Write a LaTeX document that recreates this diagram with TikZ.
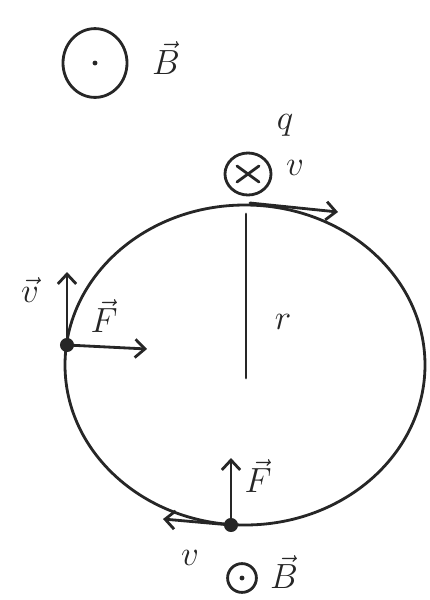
\documentclass[tikz,border=0pt]{standalone}
\usepackage{xcolor}
\usepackage{tikz}
\usetikzlibrary{arrows.meta,positioning,shapes.geometric}
\definecolor{ink}{HTML}{262626}
\tikzset{
  pen/.style={line width=2pt, color=ink, line cap=round},
  vecarrow/.style={
    pen, -{Straight Barb[length=7pt, width=13pt]}
  },
  dotnode/.style={
    circle, fill=ink, inner sep=0pt, minimum size=#1
  },
  dotnode/.default=8pt,
  fieldring/.style={
    ellipse, draw=ink, line width=2pt, inner sep=0pt,
    minimum width=#1, minimum height=#1
  },
  lbl/.style={
    font=\fontsize{30}{32}\selectfont, text=ink, inner sep=1pt
  },
}
\begin{document}
\begin{tikzpicture}[x=0.025cm, y=-0.025cm]
  \useasboundingbox (0,0) rectangle (429,600);
  % field out of the page, top left
  \node[fieldring=1.6cm, minimum height=1.72cm] (Bt) at (95,63) {};
  \node[dotnode=3.5pt] (Btdot) at (Bt.center) {};
  \node[lbl] (Btl) at (166,58) {$\vec{B}$};
  % orbit and radius
  \draw[pen] (245,365) ellipse [x radius=180, y radius=160];
  \coordinate (rtop) at (246,214);
  \coordinate (O) at (246,378);
  \draw[pen] (rtop) -- (O);
  \node[lbl] (rl) at (283,322) {$r$};
  % charge at the top
  \node[fieldring=1.15cm, minimum height=1.05cm] (q) at (248,174) {};
  \draw[pen] ([shift={(-11,-8)}]q.center) -- ([shift={(11,8)}]q.center);
  \draw[pen] ([shift={(-11,8)}]q.center) -- ([shift={(11,-8)}]q.center);
  \node[lbl] (ql) at (285,125) {$q$};
  \node[lbl] (vtl) at (295,168) {$v$};
  \coordinate (pT) at (250,203);
  \coordinate (vT) at (338,212);
  \draw[vecarrow] (pT) -- (vT);
  % charge on the left
  \node[dotnode=10pt] (pL) at (67,345) {};
  \coordinate (vL) at (67,272);
  \coordinate (fL) at (147,349);
  \draw[vecarrow] (pL.center) -- (vL);
  \draw[vecarrow] (pL.center) -- (fL);
  \node[lbl] (vll) at (30,290) {$\vec{v}$};
  \node[lbl] (fll) at (104,316) {$\vec{F}$};
  % charge at the bottom
  \node[dotnode=10pt] (pB) at (231,525) {};
  \coordinate (fB) at (231,458);
  \coordinate (vB) at (163,519);
  \draw[vecarrow] (pB.center) -- (fB);
  \draw[vecarrow] (pB.center) -- (vB);
  \node[lbl] (fbl) at (258,476) {$\vec{F}$};
  \node[lbl] (vbl) at (190,558) {$v$};
  \node[fieldring=0.72cm] (Bb) at (242,578) {};
  \node[dotnode=3.5pt] (Bbdot) at (Bb.center) {};
  \node[lbl] (Bbl) at (284,572) {$\vec{B}$};
\end{tikzpicture}
\end{document}
